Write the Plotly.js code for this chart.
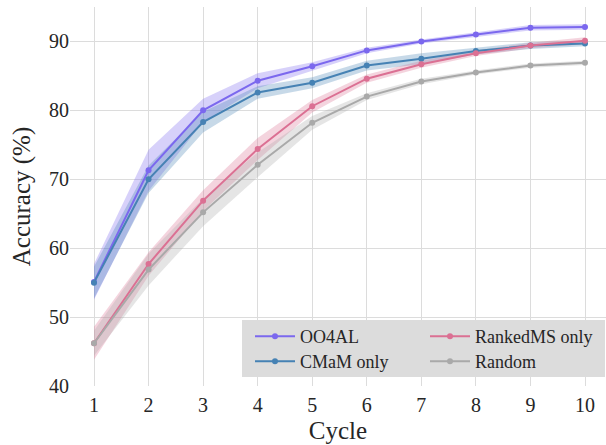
<!DOCTYPE html>
<html>
<head>
<meta charset="utf-8">
<script src="https://cdn.plot.ly/plotly-3.0.1.min.js"></script>
<style>html,body{margin:0;padding:0;background:#fff;}#chart{width:606px;height:445px;}</style>
</head>
<body>
<div id="chart"></div>
<script>
const cycles = [1, 2, 3, 4, 5, 6, 7, 8, 9, 10];

const oo4alMean = [55.1, 71.3, 80.0, 84.3, 86.4, 88.7, 90.0, 91.0, 92.0, 92.1];
const oo4alStd  = [2.6, 3.0, 1.7, 1.1, 0.6, 0.4, 0.3, 0.4, 0.4, 0.4];

const cmamMean = [55.0, 70.0, 78.3, 82.6, 84.0, 86.5, 87.5, 88.6, 89.4, 89.7];
const cmamStd  = [2.3, 2.0, 1.5, 0.9, 0.8, 0.7, 0.8, 0.5, 0.5, 0.4];

const rankedMean = [46.2, 57.7, 66.9, 74.4, 80.6, 84.6, 86.7, 88.3, 89.4, 90.1];
const rankedStd  = [2.4, 1.7, 1.5, 1.6, 0.9, 0.6, 0.5, 0.4, 0.4, 0.5];

const randomMean = [46.2, 56.9, 65.2, 72.1, 78.2, 82.0, 84.2, 85.5, 86.5, 86.9];
const randomStd  = [1.8, 2.3, 2.0, 1.8, 1.0, 0.5, 0.4, 0.3, 0.3, 0.3];

const series = [
  {name: 'OO4AL', mean: oo4alMean, sd: oo4alStd, color: '#7B68EE', band: 'rgba(123,104,238,0.3)', legend: 'legend'},
  {name: 'CMaM only', mean: cmamMean, sd: cmamStd, color: '#4682B4', band: 'rgba(70,130,180,0.3)', legend: 'legend2'},
  {name: 'RankedMS only', mean: rankedMean, sd: rankedStd, color: '#DB7093', band: 'rgba(219,112,147,0.3)', legend: 'legend3'},
  {name: 'Random', mean: randomMean, sd: randomStd, color: '#A9A9A9', band: 'rgba(169,169,169,0.3)', legend: 'legend4'}
];

const traces = [];
series.forEach(s => {
  const upper = s.mean.map((m, i) => m + s.sd[i]);
  const lower = s.mean.map((m, i) => m - s.sd[i]);
  traces.push({
    x: cycles.concat(cycles.slice().reverse()),
    y: upper.concat(lower.slice().reverse()),
    type: 'scatter', mode: 'lines', fill: 'toself',
    fillcolor: s.band, line: {width: 0, color: 'rgba(0,0,0,0)'},
    hoverinfo: 'skip', showlegend: false
  });
});
series.forEach(s => {
  traces.push({
    x: cycles, y: s.mean, name: s.name, legend: s.legend,
    type: 'scatter', mode: 'lines+markers',
    line: {color: s.color, width: 2},
    marker: {color: s.color, size: 6}
  });
});

const serifFamily = '"Times New Roman", "Liberation Serif", "DejaVu Serif", serif';
const txt = '#262626';
const legFont = {size: 18, family: serifFamily, color: txt};
function leg(px, py) {
  return {
    orientation: 'v', x: (px - 70) / 536, y: (386 - py) / 379, xanchor: 'left', yanchor: 'top',
    bgcolor: 'rgba(0,0,0,0)', borderwidth: 0, font: legFont, itemwidth: 40, tracegroupgap: 0
  };
}
const layout = {
  width: 606, height: 445,
  margin: {l: 70, r: 0, t: 7, b: 59},
  paper_bgcolor: '#fff', plot_bgcolor: '#fff',
  font: {family: serifFamily, color: txt, size: 19},
  xaxis: {
    range: [0.56, 10.385], tickvals: cycles, ticktext: cycles.map(String),
    showgrid: true, gridcolor: '#dcdcdc', gridwidth: 1,
    zeroline: false, showline: false, ticks: '', ticklabelstandoff: 5,
    tickfont: {size: 20, family: serifFamily, color: txt},
    title: {text: 'Cycle', font: {size: 25, family: serifFamily, color: txt}, standoff: 6}
  },
  yaxis: {
    range: [40, 95], tickvals: [40, 50, 60, 70, 80, 90],
    showgrid: true, gridcolor: '#dcdcdc', gridwidth: 1,
    zeroline: false, showline: false, ticks: '',
    tickfont: {size: 20, family: serifFamily, color: txt},
    title: {text: 'Accuracy (%)', font: {size: 25, family: serifFamily, color: txt}, standoff: 11}
  },
  shapes: [{
    type: 'rect', xref: 'paper', yref: 'paper', layer: 'above',
    x0: (242 - 70) / 536, x1: (605 - 70) / 536,
    y0: (386 - 377) / 379, y1: (386 - 320) / 379,
    fillcolor: '#dcdcdc', line: {width: 0}
  }],
  legend: leg(250, 318),
  legend2: leg(250, 343),
  legend3: leg(425, 318),
  legend4: leg(425, 343),
  showlegend: true
};

Plotly.newPlot('chart', traces, layout, {displayModeBar: false, staticPlot: true});
</script>
</body>
</html>
